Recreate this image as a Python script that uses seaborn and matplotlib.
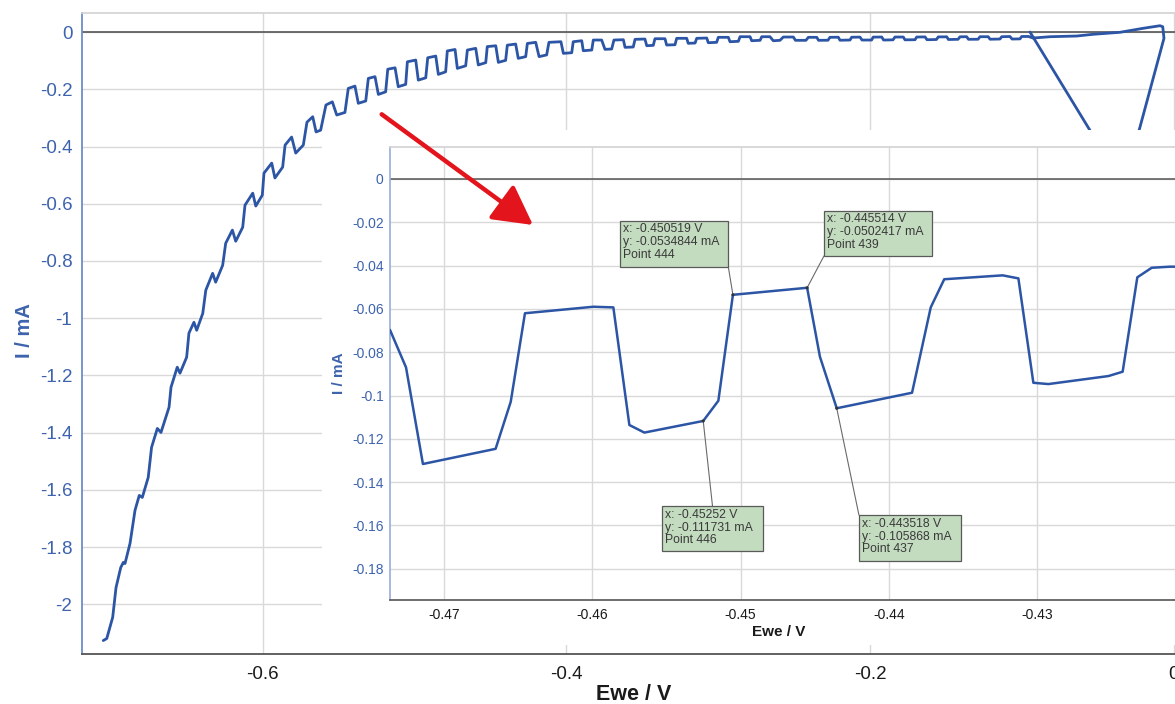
import matplotlib
matplotlib.use("Agg")
import matplotlib.pyplot as plt
import seaborn as sns
import pandas as pd
from matplotlib.ticker import MultipleLocator, FuncFormatter
from matplotlib.patches import Rectangle

# ------------------------------------------------------------------
# Main scan, Ewe / V  vs  I / mA  (left -> right)
# ------------------------------------------------------------------
E_steep = [-0.7049, -0.7026, -0.6987, -0.6965, -0.6934, -0.6917, -0.6906, -0.6873, -0.6840, -0.6812,
           -0.6792, -0.6753, -0.6731, -0.6693, -0.6669, -0.6616, -0.6603, -0.6562, -0.6544, -0.6500,
           -0.6485, -0.6452, -0.6434, -0.6394, -0.6374, -0.6329, -0.6309, -0.6263, -0.6243, -0.6199,
           -0.6177, -0.6131, -0.6116, -0.6065, -0.6045, -0.6002, -0.5991, -0.5940, -0.5919, -0.5868,
           -0.5852, -0.5809, -0.5782, -0.5732]
I_steep = [-2.126, -2.119, -2.045, -1.941, -1.871, -1.853, -1.857, -1.787, -1.671, -1.619,
           -1.626, -1.556, -1.451, -1.385, -1.399, -1.311, -1.241, -1.171, -1.192, -1.136,
           -1.052, -1.014, -1.042, -0.983, -0.902, -0.843, -0.874, -0.815, -0.738, -0.692,
           -0.731, -0.682, -0.605, -0.563, -0.608, -0.570, -0.493, -0.458, -0.510, -0.472,
           -0.395, -0.367, -0.423, -0.395]

E_stair1 = [-0.5708, -0.5670, -0.5648, -0.5618, -0.5583, -0.5541, -0.5512, -0.5458, -0.5436, -0.5392,
            -0.5370, -0.5321, -0.5304, -0.5260, -0.5238, -0.5190, -0.5176, -0.5128, -0.5107, -0.5058,
            -0.5047, -0.4992, -0.4975, -0.4926, -0.4913, -0.4860, -0.4843, -0.4795, -0.4784, -0.4733,
            -0.4718, -0.4663, -0.4652, -0.4597, -0.4580, -0.4531, -0.4521, -0.4465, -0.4448, -0.4400,
            -0.4389, -0.4334, -0.4317, -0.4268, -0.4257, -0.4202, -0.4180, -0.4130, -0.4115]
I_stair1 = [-0.315, -0.296, -0.349, -0.343, -0.255, -0.244, -0.290, -0.281, -0.197, -0.189,
            -0.249, -0.241, -0.162, -0.156, -0.218, -0.209, -0.130, -0.125, -0.191, -0.183,
            -0.104, -0.098, -0.168, -0.160, -0.090, -0.084, -0.148, -0.139, -0.066, -0.061,
            -0.127, -0.118, -0.063, -0.057, -0.115, -0.107, -0.051, -0.048, -0.106, -0.099,
            -0.046, -0.042, -0.092, -0.086, -0.040, -0.036, -0.086, -0.080, -0.036]

E_stair2 = [-0.4036, -0.4020, -0.3965, -0.3955, -0.3899, -0.3889, -0.3833, -0.3823, -0.3768, -0.3746,
            -0.3702, -0.3687, -0.3625, -0.3614, -0.3560, -0.3548, -0.3483, -0.3471, -0.3428, -0.3417,
            -0.3351, -0.3340, -0.3285, -0.3274, -0.3208, -0.3198, -0.3153, -0.3142, -0.3076, -0.3066,
            -0.3011, -0.3000, -0.2934, -0.2923, -0.2868, -0.2857, -0.2791, -0.2780, -0.2725, -0.2714,
            -0.2660, -0.2638, -0.2594, -0.2572, -0.2506]
I_stair2 = [-0.0339, -0.0745, -0.0724, -0.0339, -0.0304, -0.0654, -0.0629, -0.0280, -0.0280, -0.0605,
            -0.0594, -0.0280, -0.0269, -0.0535, -0.0524, -0.0255, -0.0245, -0.0479, -0.0465, -0.0234,
            -0.0234, -0.0455, -0.0444, -0.0220, -0.0220, -0.0395, -0.0385, -0.0220, -0.0210, -0.0374,
            -0.0360, -0.0185, -0.0185, -0.0339, -0.0325, -0.0164, -0.0164, -0.0304, -0.0290, -0.0164,
            -0.0164, -0.0304, -0.0290, -0.0175, -0.0175]

E_stair3 = [-0.2492, -0.2423, -0.2407, -0.2352, -0.2340, -0.2278, -0.2265, -0.2210, -0.2199, -0.2133,
            -0.2122, -0.2067, -0.2054, -0.1991, -0.1980, -0.1924, -0.1912, -0.1850, -0.1837, -0.1782,
            -0.1771, -0.1705, -0.1694, -0.1639, -0.1626, -0.1564, -0.1552, -0.1496, -0.1485, -0.1422,
            -0.1409, -0.1365, -0.1353, -0.1290, -0.1277, -0.1223, -0.1211, -0.1146, -0.1134, -0.1080,
            -0.1066, -0.1014, -0.1003, -0.0959]
I_stair3 = [-0.0290, -0.0290, -0.0185, -0.0185, -0.0290, -0.0287, -0.0185, -0.0182, -0.0287, -0.0280,
            -0.0182, -0.0178, -0.0280, -0.0280, -0.0178, -0.0175, -0.0280, -0.0273, -0.0175, -0.0175,
            -0.0273, -0.0269, -0.0175, -0.0171, -0.0269, -0.0262, -0.0171, -0.0168, -0.0262, -0.0255,
            -0.0168, -0.0164, -0.0255, -0.0252, -0.0164, -0.0164, -0.0252, -0.0245, -0.0164, -0.0157,
            -0.0245, -0.0240, -0.0157, -0.0155]

# start of the scan near 0 V (hook and initial transient, partly hidden by the inset)
E_start = [-0.0928, -0.0816, -0.0641, -0.0533, -0.0356, -0.0270, -0.0204, -0.0092, -0.0074, -0.0066,
           -0.0329, -0.0948]
I_start = [-0.0210, -0.0164, -0.0140, -0.0080, -0.0010, 0.0070, 0.0129, 0.0220, 0.0185, -0.0220,
           -0.5385, 0.0000]

# ------------------------------------------------------------------
# Zoomed section (inset)
# ------------------------------------------------------------------
E_zoom = [-0.47364, -0.47256, -0.47142, -0.46652, -0.46550, -0.46454, -0.45993, -0.45858, -0.45750,
          -0.45649, -0.45252, -0.45150, -0.450519, -0.445514, -0.44465, -0.443518, -0.43844, -0.43718,
          -0.43627, -0.43233, -0.43127, -0.43026, -0.42925, -0.42520, -0.42424, -0.42325, -0.42228,
          -0.42105, -0.42060]
I_zoom = [-0.0697, -0.0870, -0.1316, -0.1246, -0.1029, -0.0620, -0.0590, -0.0593, -0.1136,
          -0.1171, -0.111731, -0.1024, -0.0534844, -0.0502417, -0.0821, -0.105868, -0.0987, -0.0593,
          -0.0463, -0.0445, -0.0459, -0.0941, -0.0947, -0.0910, -0.0890, -0.0454, -0.0410,
          -0.0405, -0.0405]

# cursor read-outs
cursor_E_txt = ["-0.450519", "-0.445514", "-0.45252", "-0.443518"]
cursor_I_txt = ["-0.0534844", "-0.0502417", "-0.111731", "-0.105868"]
cursor_point = [444, 439, 446, 437]
cursor_E = [float(v) for v in cursor_E_txt]
cursor_I = [float(v) for v in cursor_I_txt]

E_main = E_steep + E_stair1 + E_stair2 + E_stair3 + E_start
I_main = I_steep + I_stair1 + I_stair2 + I_stair3 + I_start
assert len(E_main) == len(I_main) and len(E_zoom) == len(I_zoom)

df_main = pd.DataFrame({"Ewe": E_main, "I": I_main})
df_zoom = pd.DataFrame({"Ewe": E_zoom, "I": I_zoom})

# ------------------------------------------------------------------
sns.set_theme(style="white")
plt.rcParams["font.family"] = ["Liberation Sans", "DejaVu Sans"]
plt.rcParams["axes.unicode_minus"] = False

W, H = 1175, 704
BLUE_LINE = "#2c55a5"
BLUE_TXT = "#3d63ae"
GRID = "#d9d9d9"

fig = plt.figure(figsize=(W / 100, H / 100), dpi=100)
fig.patch.set_facecolor("white")


def px_rect(l, t, r, b):
    return [l / W, 1 - b / H, (r - l) / W, (b - t) / H]


def num_fmt(v, pos):
    if abs(v) < 1e-12:
        return "0"
    return f"{v:.6g}"


# ---------------- main axes ----------------
ax = fig.add_axes(px_rect(82, 13.3, 1175, 653.5))
ax.set_facecolor("white")
sns.lineplot(data=df_main, x="Ewe", y="I", sort=False, estimator=None,
             color=BLUE_LINE, lw=2.0, ax=ax, zorder=3)
ax.set_xlim(-0.7189, 0.00066)
ax.set_ylim(-2.1713, 0.0654)
ax.xaxis.set_major_locator(MultipleLocator(0.2))
ax.xaxis.set_minor_locator(MultipleLocator(0.04))
ax.yaxis.set_major_locator(MultipleLocator(0.2))
ax.yaxis.set_minor_locator(MultipleLocator(0.04))
ax.xaxis.set_major_formatter(FuncFormatter(num_fmt))
ax.yaxis.set_major_formatter(FuncFormatter(num_fmt))
ax.grid(True, which="major", color=GRID, lw=1.0, zorder=0)
ax.axhline(0, color="#555555", lw=1.2, zorder=2)
ax.tick_params(axis="x", which="both", direction="out", colors="#444444",
               labelcolor="#1a1a1a", labelsize=13.5, pad=4.8)
ax.tick_params(axis="x", which="major", length=4, width=1)
ax.tick_params(axis="x", which="minor", length=3, width=1)
ax.tick_params(axis="y", which="both", direction="out", colors="#6f8cc9",
               labelcolor=BLUE_TXT, labelsize=13.5, pad=3)
ax.tick_params(axis="y", which="major", length=4, width=1)
ax.tick_params(axis="y", which="minor", length=3, width=1)
ax.spines["left"].set_color("#6f8cc9")
ax.spines["left"].set_linewidth(1.3)
ax.spines["bottom"].set_color("#555555")
ax.spines["bottom"].set_linewidth(1.3)
ax.spines["top"].set_color("#d4d4d4")
ax.spines["right"].set_visible(False)
ax.set_xlabel("Ewe / V", fontsize=15.5, fontweight="bold", color="#1a1a1a")
ax.set_ylabel("I / mA", fontsize=14.5, fontweight="bold", color=BLUE_TXT)
ax.xaxis.set_label_coords(0.505, -0.048)
ax.yaxis.set_label_coords(-0.044, 0.505)

# ---------------- white backdrop of the zoom window ----------------
ax_bg = fig.add_axes(px_rect(322, 130, 1175, 645))
ax_bg.set_zorder(1)
ax_bg.set_axis_off()
ax_bg.add_patch(Rectangle((0, 0), 1, 1, transform=ax_bg.transAxes,
                          facecolor="white", edgecolor="none"))

# ---------------- inset axes ----------------
ax_in = fig.add_axes(px_rect(390, 146.7, 1175, 600.0))
ax_in.set_zorder(2)
ax_in.set_facecolor("white")
sns.lineplot(data=df_zoom, x="Ewe", y="I", sort=False, estimator=None,
             color=BLUE_LINE, lw=1.8, ax=ax_in, zorder=3)
ax_in.set_xlim(-0.47364, -0.42071)
ax_in.set_ylim(-0.1944, 0.0149)
ax_in.xaxis.set_major_locator(MultipleLocator(0.01))
ax_in.xaxis.set_minor_locator(MultipleLocator(0.002))
ax_in.yaxis.set_major_locator(MultipleLocator(0.02))
ax_in.yaxis.set_minor_locator(MultipleLocator(0.004))
ax_in.xaxis.set_major_formatter(FuncFormatter(num_fmt))
ax_in.yaxis.set_major_formatter(FuncFormatter(num_fmt))
ax_in.grid(True, which="major", color=GRID, lw=1.0, zorder=0)
ax_in.axhline(0, color="#555555", lw=1.1, zorder=2)
ax_in.tick_params(axis="x", which="both", direction="out", colors="#444444",
                  labelcolor="#1a1a1a", labelsize=10, pad=2.2)
ax_in.tick_params(axis="x", which="major", length=3.5, width=0.9)
ax_in.tick_params(axis="x", which="minor", length=2.5, width=0.9)
ax_in.tick_params(axis="y", which="both", direction="out", colors="#9db0d8",
                  labelcolor=BLUE_TXT, labelsize=10, pad=1.5)
ax_in.tick_params(axis="y", which="major", length=3, width=0.9)
ax_in.tick_params(axis="y", which="minor", length=2, width=0.9)
ax_in.spines["left"].set_color("#9db0d8")
ax_in.spines["bottom"].set_color("#555555")
ax_in.spines["bottom"].set_linewidth(1.2)
ax_in.spines["top"].set_color("#d4d4d4")
ax_in.spines["right"].set_visible(False)
ax_in.set_xlabel("Ewe / V", fontsize=11, fontweight="bold", color="#1a1a1a")
ax_in.set_ylabel("I / mA", fontsize=11, fontweight="bold", color=BLUE_TXT)
ax_in.xaxis.set_label_coords(0.495, -0.055)
ax_in.yaxis.set_label_coords(-0.056, 0.5)

# cursor read-out boxes (box corners in inset data units)
box_lt = [(-0.45813, -0.01926), (-0.44438, -0.01464), (-0.45530, -0.15104), (-0.44202, -0.15520)]
box_rb = [(-0.45083, -0.04051), (-0.43707, -0.03557), (-0.44849, -0.17182), (-0.43514, -0.17630)]
attach = [(1.0, 0.0), (0.0, 0.0), (0.5, 1.0), (0.0, 1.0)]
for i in range(4):
    (l, t), (r, b) = box_lt[i], box_rb[i]
    fx, fy = attach[i]
    ax_in.plot([cursor_E[i], l + fx * (r - l)], [cursor_I[i], b + fy * (t - b)],
               color="#6a6a6a", lw=0.8, zorder=4)
    ax_in.add_patch(Rectangle((l, b), r - l, t - b, facecolor="#c3dcbf",
                              edgecolor="#5a5a5a", lw=0.9, zorder=5))
    ax_in.annotate(f"x: {cursor_E_txt[i]} V\ny: {cursor_I_txt[i]} mA\nPoint {cursor_point[i]}",
                   xy=(l, t), xytext=(2.0, -2.0), textcoords="offset points",
                   ha="left", va="top", fontsize=8.8, color="#3a3a3a",
                   linespacing=1.08, zorder=6)
sns.scatterplot(x=cursor_E, y=cursor_I, ax=ax_in, color="#333333", s=5,
                marker="o", edgecolor="none", zorder=6)

# red pointer from the main trace into the zoom window
ax_in.annotate("", xy=(533, H - 225), xycoords="figure pixels",
               xytext=(381.7, H - 114.3), textcoords="figure pixels",
               arrowprops=dict(arrowstyle="-|>,head_length=2.4,head_width=1.3",
                               mutation_scale=10, color="#e3141b", lw=3.2,
                               shrinkA=0, shrinkB=0),
               annotation_clip=False, zorder=10)

fig.savefig("out.png", dpi=100, facecolor="white")
